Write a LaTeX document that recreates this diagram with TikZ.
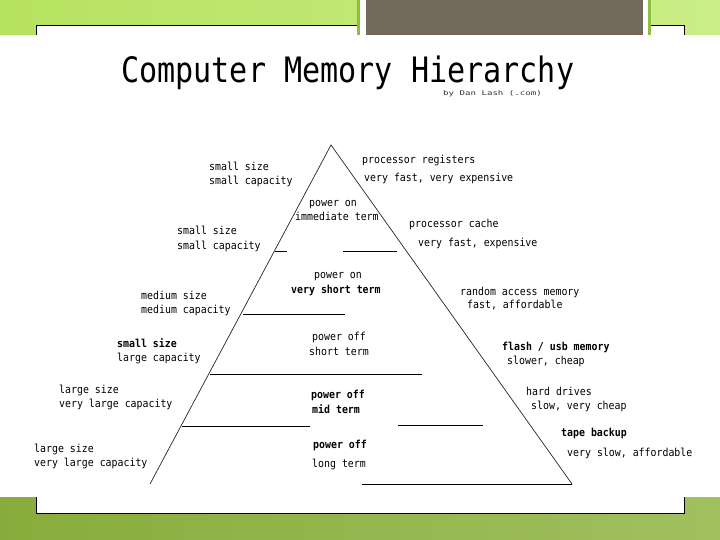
\documentclass[tikz,border=0pt]{standalone}
\usepackage{fontspec}
\newfontfamily\pix[FakeStretch=0.9]{DejaVu Sans Mono}
\newfontfamily\pixtitle[FakeStretch=0.86]{DejaVu Sans Mono}
\newfontfamily\pixsub[FakeStretch=1.4]{DejaVu Sans Mono}
\definecolor{greenL}{HTML}{B6E260}
\definecolor{greenR}{HTML}{CAEE86}
\definecolor{greenB1}{HTML}{88AC3C}
\definecolor{greenB2}{HTML}{A2C060}
\definecolor{stripe}{HTML}{8DC040}
\definecolor{darkbox}{HTML}{746A5B}
\begin{document}
\begin{tikzpicture}[x=1pt,y=-1pt,
  lbl/.style={anchor=base west, inner sep=0pt, font=\pix\fontsize{11}{13}\selectfont},
  lblb/.style={anchor=base west, inner sep=0pt, font=\pix\bfseries\fontsize{11}{13}\selectfont},
  edge/.style={black!85, line width=0.7pt},
  tier/.style={black, line width=0.8pt}]
\useasboundingbox (0,0) rectangle (720,540);
% background
\fill[left color=greenL, right color=greenR] (0,0) rectangle (720,35);
\fill[left color=greenB1, right color=greenB2] (0,497) rectangle (720,540);
\draw[black, line width=1pt, fill=white] (36,26) rectangle (684,513);
\fill[white] (0,35) rectangle (720,497);
\fill[white] (360,0) rectangle (648,35);
\fill[darkbox] (366,0) rectangle (643,35);
\fill[stripe] (357,0) rectangle (360,35);
\fill[stripe] (648,0) rectangle (651,35);
% title
\node[anchor=base west, inner sep=0pt, font=\pixtitle\fontsize{35}{38}\selectfont] (title) at (121,83) {Computer Memory Hierarchy};
\node[anchor=base west, inner sep=0pt, font=\pixsub\fontsize{6.5}{7}\selectfont, text=black!80] (sub) at (443,96) {by Dan Lash (.com)};
% pyramid
\coordinate (apex) at (331,145);
\coordinate (bl) at (150,484);
\coordinate (br) at (572,484);
\draw[edge] (bl) -- (apex) -- (br);
\coordinate (h1a) at (275,251); \coordinate (h1b) at (287,251);
\coordinate (h1c) at (343,251); \coordinate (h1d) at (397,251);
\coordinate (h2a) at (243,314); \coordinate (h2b) at (345,314);
\coordinate (h3a) at (210,374); \coordinate (h3b) at (422,374);
\coordinate (h4a) at (182,426); \coordinate (h4b) at (310,426);
\coordinate (h4c) at (398,425); \coordinate (h4d) at (483,425);
\coordinate (h5a) at (362,484);
\draw[tier] (h1a) -- (h1b);
\draw[tier] (h1c) -- (h1d);
\draw[tier] (h2a) -- (h2b);
\draw[tier] (h3a) -- (h3b);
\draw[tier] (h4a) -- (h4b);
\draw[tier] (h4c) -- (h4d);
\draw[tier] (h5a) -- (br);
% left labels
\node[lbl] (l1a) at (209,171) {small size};
\node[lbl] (l1b) at (209,185) {small capacity};
\node[lbl] (l2a) at (177,235) {small size};
\node[lbl] (l2b) at (177,249) {small capacity};
\node[lbl] (l3a) at (141,299) {medium size};
\node[lbl] (l3b) at (141,313) {medium capacity};
\node[lblb] (l4a) at (117,347) {small size};
\node[lbl] (l4b) at (117,361) {large capacity};
\node[lbl] (l5a) at (59,393) {large size};
\node[lbl] (l5b) at (59,407) {very large capacity};
\node[lbl] (l6a) at (34,452) {large size};
\node[lbl] (l6b) at (34,466) {very large capacity};
% center labels
\node[lbl] (c1a) at (309,207) {power on};
\node[lbl] (c1b) at (295,221) {immediate term};
\node[lbl] (c2a) at (314,278) {power on};
\node[lblb] (c2b) at (291,293) {very short term};
\node[lbl] (c3a) at (312,340) {power off};
\node[lbl] (c3b) at (309,355) {short term};
\node[lblb] (c4a) at (311,398) {power off};
\node[lblb] (c4b) at (312,413) {mid term};
\node[lblb] (c5a) at (313,448) {power off};
\node[lbl] (c5b) at (312,467) {long term};
% right labels
\node[lbl] (r1a) at (362,164) {processor registers};
\node[lbl] (r1b) at (364,182) {very fast, very expensive};
\node[lbl] (r2a) at (409,227) {processor cache};
\node[lbl] (r2b) at (418,247) {very fast, expensive};
\node[lbl] (r3a) at (460,295) {random access memory};
\node[lbl] (r3b) at (467,308) {fast, affordable};
\node[lblb] (r4a) at (502,350) {flash / usb memory};
\node[lbl] (r4b) at (507,364) {slower, cheap};
\node[lbl] (r5a) at (526,395) {hard drives};
\node[lbl] (r5b) at (531,409) {slow, very cheap};
\node[lblb] (r6a) at (561,436) {tape backup};
\node[lbl] (r6b) at (567,456) {very slow, affordable};
\end{tikzpicture}
\end{document}
